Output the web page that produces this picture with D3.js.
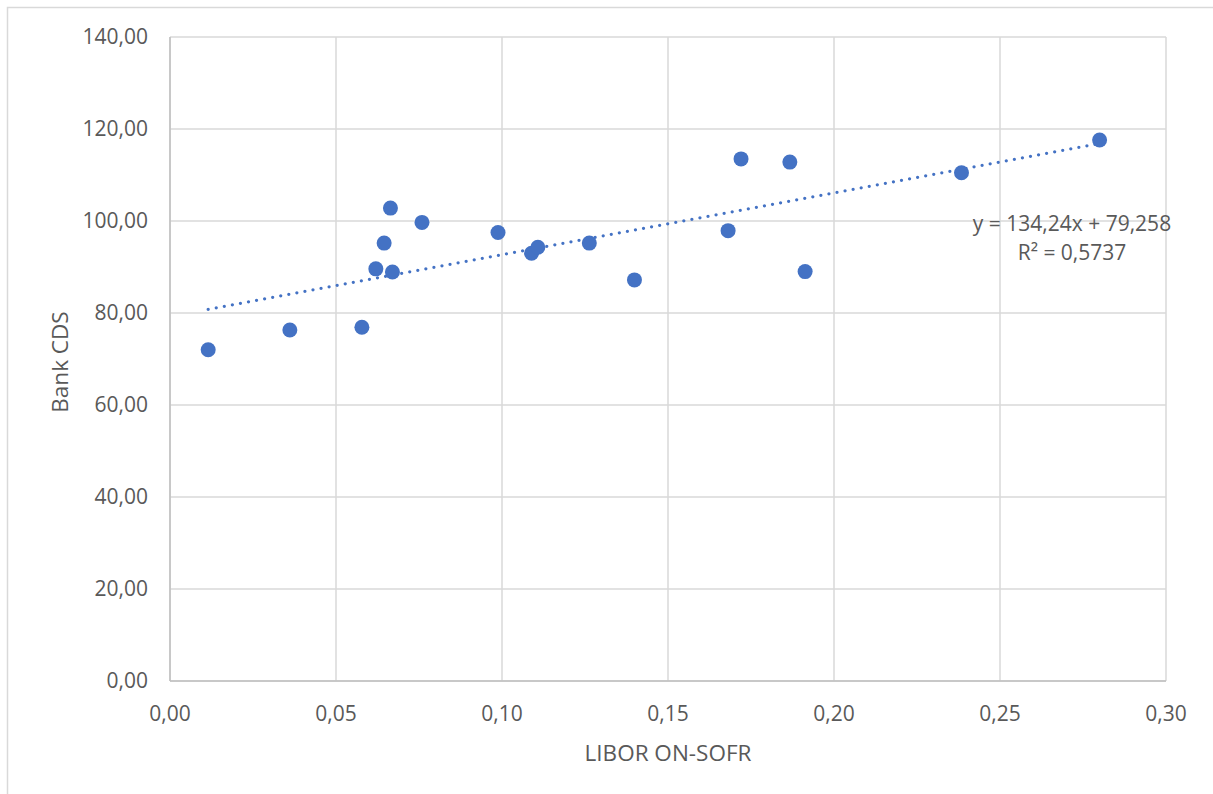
<!DOCTYPE html>
<html><head><meta charset="utf-8">
<script src="https://cdn.jsdelivr.net/npm/d3@7"></script>
<style>body{margin:0;background:#fff;} svg{display:block;font-family:"Open Sans",sans-serif;}</style>
</head><body><svg id="c" width="1213" height="794"></svg>
<script>
const libor = [0.0115,0.0361,0.0578,0.0620,0.0645,0.0664,0.0670,0.0759,0.0988,0.1089,0.1108,0.1263,0.1399,0.1681,0.1720,0.1867,0.1913,0.2384,0.2800];
const cds   = [72.0,76.3,76.9,89.6,95.2,102.8,88.9,99.7,97.5,93.0,94.3,95.2,87.2,97.9,113.5,112.8,89.0,110.5,117.6];
const xTicks = [0,0.05,0.10,0.15,0.20,0.25,0.30];
const yTicks = [0,20,40,60,80,100,120,140];
const slope = 134.24, intercept = 79.258;
const eqLabel = "y = 134,24x + 79,258";
const r2Label = "R² = 0,5737";
const xTitle = "LIBOR ON-SOFR", yTitle = "Bank CDS";

const svg = d3.select("#c");
const L=170,R=1166,T=37,B=681;
const x = d3.scaleLinear().domain([0,0.30]).range([L,R]);
const y = d3.scaleLinear().domain([0,140]).range([B,T]);
const fmt = (d,n)=>d.toFixed(n).replace(".",",");
const grid="#d9d9d9", txt="#595959", blue="#4472C4";

svg.append("path").attr("d",`M7.5,800V7.5H1220`).attr("fill","none").attr("stroke","#d9d9d9").attr("stroke-width",1.5);

svg.append("g").selectAll("line").data(xTicks).join("line")
 .attr("x1",d=>x(d)).attr("x2",d=>x(d)).attr("y1",T).attr("y2",B)
 .attr("stroke",grid).attr("stroke-width",1.5);
svg.append("g").selectAll("line").data(yTicks).join("line")
 .attr("x1",L).attr("x2",R).attr("y1",d=>y(d)).attr("y2",d=>y(d))
 .attr("stroke",grid).attr("stroke-width",1.5);
svg.append("line").attr("x1",L).attr("x2",L).attr("y1",T).attr("y2",B).attr("stroke","#bfbfbf").attr("stroke-width",1.5);
svg.append("line").attr("x1",L).attr("x2",R).attr("y1",B).attr("y2",B).attr("stroke","#bfbfbf").attr("stroke-width",1.5);

svg.append("g").selectAll("text").data(yTicks).join("text")
 .attr("x",148).attr("y",d=>y(d)).attr("dy","0.35em").attr("text-anchor","end")
 .attr("fill",txt).attr("font-size",21).text(d=>fmt(d,2));
svg.append("g").selectAll("text").data(xTicks).join("text")
 .attr("x",d=>x(d)).attr("y",714).attr("dy","0.35em").attr("text-anchor","middle")
 .attr("fill",txt).attr("font-size",21).text(d=>fmt(d,2));

svg.append("text").attr("x",668).attr("y",753).attr("dy","0.35em").attr("text-anchor","middle")
 .attr("fill",txt).attr("font-size",22.5).text(xTitle);
svg.append("text").attr("transform","translate(60,362) rotate(-90)").attr("dy","0.35em").attr("text-anchor","middle")
 .attr("fill",txt).attr("font-size",22.5).text(yTitle);

const x0=d3.min(libor), x1=d3.max(libor);
svg.append("line").attr("x1",x(x0)).attr("y1",y(slope*x0+intercept)).attr("x2",x(x1)).attr("y2",y(slope*x1+intercept))
 .attr("stroke",blue).attr("stroke-width",3.3).attr("stroke-linecap","round").attr("stroke-dasharray","0 8.2");

svg.append("g").selectAll("circle").data(libor.map((d,i)=>[d,cds[i]])).join("circle")
 .attr("cx",d=>x(d[0])).attr("cy",d=>y(d[1])).attr("r",7.5).attr("fill",blue);

svg.append("text").attr("x",1072).attr("y",224).attr("dy","0.35em").attr("text-anchor","middle")
 .attr("fill",txt).attr("font-size",21).text(eqLabel);
svg.append("text").attr("x",1072).attr("y",253).attr("dy","0.35em").attr("text-anchor","middle")
 .attr("fill",txt).attr("font-size",21).text(r2Label);
</script></body></html>
